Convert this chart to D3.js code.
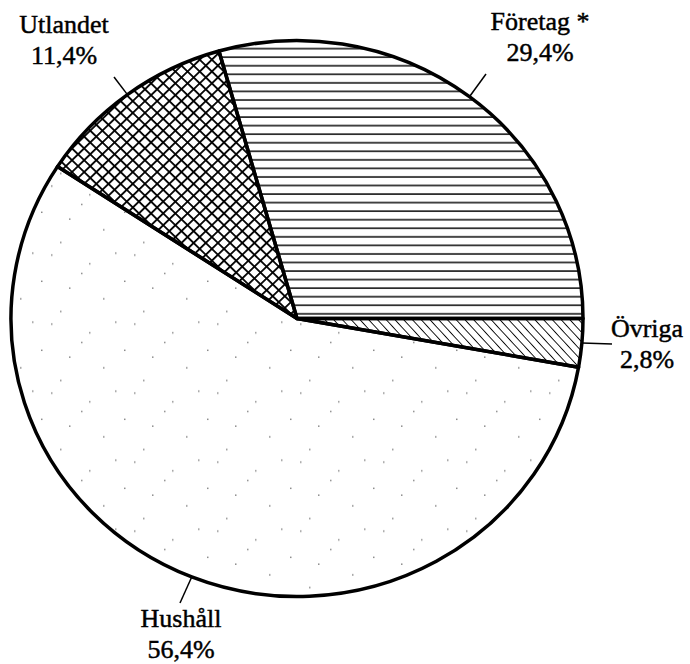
<!DOCTYPE html>
<html>
<head>
<meta charset="utf-8">
<script src="https://cdn.jsdelivr.net/npm/d3@7"></script>
<style>
  html, body { margin: 0; padding: 0; background: #fff; }
  svg { display: block; }
</style>
</head>
<body>
<svg id="chart" width="690" height="664"></svg>
<script>
// ---- data ----
const categories = ["Företag *", "Övriga", "Hushåll", "Utlandet"];
const shares = [29.4, 2.8, 56.4, 11.4];
const valueLabels = ["29,4%", "2,8%", "56,4%", "11,4%"];
const patterns = ["hlines", "diag", "stipple", "cross"];

// ---- layout ----
const cx = 297, cy = 318.5, rx = 286, ry = 278;
const FONT = "'Liberation Serif', 'Times New Roman', 'DejaVu Serif', serif";
const svg = d3.select("#chart");
const defs = svg.append("defs");

// horizontal lines
const p1 = defs.append("pattern").attr("id", "hlines").attr("patternUnits", "userSpaceOnUse")
  .attr("width", 20).attr("height", 8.8);
p1.append("line").attr("x1", 0).attr("x2", 20).attr("y1", 4).attr("y2", 4)
  .attr("stroke", "#111").attr("stroke-width", 1.6);

// diagonal "\" hatch
const p2 = defs.append("pattern").attr("id", "diag").attr("patternUnits", "userSpaceOnUse")
  .attr("width", 6.5).attr("height", 6.5).attr("patternTransform", "rotate(-42)");
p2.append("line").attr("x1", 0).attr("x2", 0).attr("y1", 0).attr("y2", 6.5)
  .attr("stroke", "#000").attr("stroke-width", 1.8);

// crosshatch
const p3 = defs.append("pattern").attr("id", "cross").attr("patternUnits", "userSpaceOnUse")
  .attr("width", 8.6).attr("height", 8.6).attr("patternTransform", "rotate(45)");
p3.append("line").attr("x1", 0).attr("x2", 8.6).attr("y1", 0.9).attr("y2", 0.9)
  .attr("stroke", "#000").attr("stroke-width", 1.9);
p3.append("line").attr("x1", 0.9).attr("x2", 0.9).attr("y1", 0).attr("y2", 8.6)
  .attr("stroke", "#000").attr("stroke-width", 1.9);

// sparse stipple
const p4 = defs.append("pattern").attr("id", "stipple").attr("patternUnits", "userSpaceOnUse")
  .attr("width", 83).attr("height", 71);
[[3, 5], [41, 14], [67, 3], [21, 39], [55, 50], [76, 32], [12, 63], [33, 24]].forEach(([x, y]) => {
  p4.append("rect").attr("x", x).attr("y", y).attr("width", 1.5).attr("height", 1.5).attr("fill", "#888");
});

const total = d3.sum(shares);
const startAngle = Math.PI / 2 - 2 * Math.PI * shares[0] / total;
const pie = d3.pie().sort(null).value(d => d)
  .startAngle(startAngle).endAngle(startAngle + 2 * Math.PI);
const arcs = pie(shares);
const arc = d3.arc().innerRadius(0).outerRadius(rx);

const g = svg.append("g").attr("transform", `translate(${cx},${cy}) scale(1,${ry / rx})`);
g.selectAll("path.slice").data(arcs).enter().append("path")
  .attr("class", "slice")
  .attr("d", arc)
  .attr("fill", (d, i) => `url(#${patterns[i]})`)
  .attr("stroke", "#000")
  .attr("stroke-width", 3.5)
  .attr("stroke-linejoin", "round")
  .attr("vector-effect", "non-scaling-stroke");

// labels
const labelPos = [
  { x: 540, y: 29.5, lx: 486, ly: 74 },
  { x: 647, y: 337, lx: 612, ly: 344 },
  { x: 181, y: 627, lx: 180, ly: 603 },
  { x: 64, y: 33, lx: 114, ly: 77 }
];
const lineGap = 31;
arcs.forEach((d, i) => {
  const a = (d.startAngle + d.endAngle) / 2;
  const px = cx + rx * Math.sin(a), py = cy - ry * Math.cos(a);
  const L = labelPos[i];
  svg.append("line").attr("x1", L.lx).attr("y1", L.ly).attr("x2", px).attr("y2", py)
    .attr("stroke", "#000").attr("stroke-width", 1.5);
  const t = svg.append("text").attr("text-anchor", "middle")
    .attr("font-family", FONT).attr("font-size", 26).attr("fill", "#000")
    .attr("stroke", "#000").attr("stroke-width", 0.45);
  t.append("tspan").attr("x", L.x).attr("y", L.y).text(categories[i]);
  t.append("tspan").attr("x", L.x).attr("y", L.y + lineGap).text(valueLabels[i]);
});
</script>
</body>
</html>
